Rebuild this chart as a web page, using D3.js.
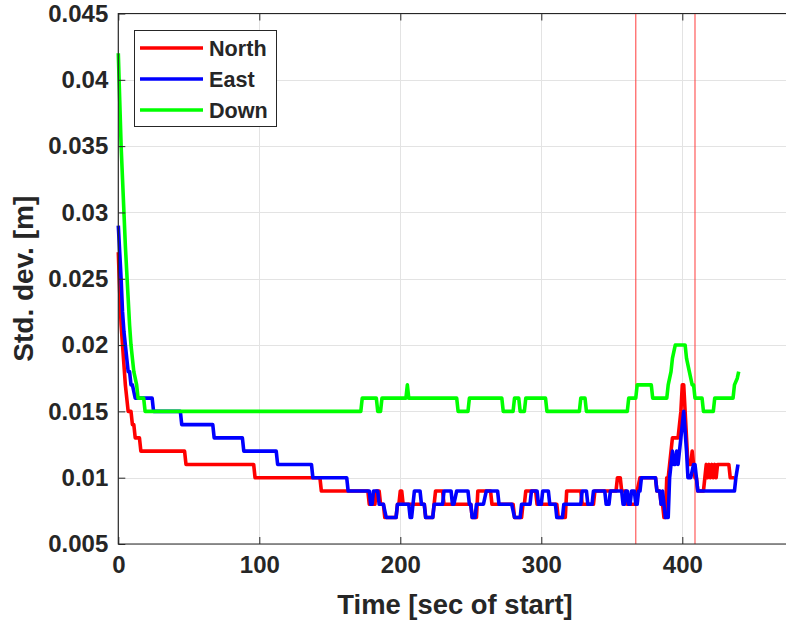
<!DOCTYPE html>
<html><head><meta charset="utf-8">
<script src="https://cdn.jsdelivr.net/npm/d3@7"></script>
<style>
body{margin:0;background:#fff}
svg{display:block;background:#fff}
text{font-family:"Liberation Sans",Arial,Helvetica,sans-serif;font-weight:bold;fill:#262626}
</style>
</head><body>
<svg id="chart" width="786" height="623"></svg>
<script>
// ---------- data ----------
const xTicks = [0, 100, 200, 300, 400];
const xTickLabels = ["0", "100", "200", "300", "400"];
const yTicks = [0.005, 0.01, 0.015, 0.02, 0.025, 0.03, 0.035, 0.04, 0.045];
const yTickLabels = ["0.005", "0.01", "0.015", "0.02", "0.025", "0.03", "0.035", "0.04", "0.045"];
const seriesNames = ["North", "East", "Down"];
const seriesColors = ["#ff0000", "#0000ff", "#00ff00"];
const markerTimes = [367, 409];
const xLabel = "Time [sec of start]";
const yLabel = "Std. dev. [m]";

// plateaus: [t start, t end, value]
const north = [
  [0,0,0.027],[1,1,0.024],[2,2,0.0215],[3,3,0.020],[4,4,0.0185],[5,5,0.017],[6,6,0.016],
  [7,9,0.015],[10,11,0.014],[12,15,0.013],[16,47,0.012],[48,96,0.011],[97,143,0.010],
  [144,177,0.009],[178,182,0.008],[183,185,0.009],[186,188,0.008],[189,197,0.007],
  [198,199,0.008],[200,201,0.009],[202,217,0.008],[218,223,0.007],[224,224,0.008],
  [225,230,0.009],[231,250,0.008],[251,254,0.007],[255,264,0.009],[265,280,0.008],
  [281,286,0.007],[287,288,0.008],[289,296,0.009],[297,311,0.008],[312,317,0.007],
  [318,328,0.009],[329,337,0.008],[338,353,0.009],[354,356,0.010],[357,360,0.009],
  [361,367,0.008],[368,368,0.009],[370,381,0.010],[382,384,0.009],[385,386,0.008],
  [387,388,0.007],[389,390,0.010],[391,391,0.011],[393,397,0.013],[399,399,0.015],
  [400,401,0.017],[403,403,0.013],[404,406,0.011],[407,407,0.012],[408,408,0.011],
  [409,410,0.010],[411,415,0.009],[416,416,0.010],[417,417,0.011],[418,418,0.010],
  [419,419,0.011],[420,420,0.010],[421,421,0.011],[422,422,0.010],[423,423,0.011],
  [424,424,0.010],[425,433,0.011],[434,437,0.010]
];
const east = [
  [0,0,0.029],[1,1,0.027],[2,2,0.025],[3,3,0.0225],[4,4,0.021],[5,5,0.020],[6,6,0.019],
  [7,8,0.018],[9,10,0.017],[12,24,0.016],[25,44,0.015],[45,67,0.014],[68,88,0.013],
  [89,112,0.012],[113,137,0.011],[138,162,0.010],[163,178,0.009],[179,180,0.008],
  [181,184,0.009],[185,188,0.008],[190,197,0.007],[198,206,0.008],[207,208,0.007],
  [210,214,0.009],[215,217,0.008],[218,223,0.007],[224,230,0.008],[231,236,0.009],
  [237,238,0.008],[240,248,0.009],[249,250,0.008],[251,253,0.007],[254,259,0.008],
  [261,269,0.009],[270,279,0.008],[281,285,0.007],[286,292,0.008],[293,297,0.009],
  [298,300,0.008],[301,305,0.009],[306,310,0.008],[311,315,0.007],[316,328,0.008],
  [329,332,0.009],[333,336,0.008],[337,345,0.009],[346,348,0.008],[349,357,0.009],
  [358,359,0.008],[360,361,0.009],[362,363,0.008],[364,366,0.009],[367,368,0.008],
  [369,370,0.009],[371,381,0.010],[382,384,0.009],[385,385,0.008],[386,386,0.009],
  [388,390,0.007],[391,391,0.010],[393,393,0.012],[394,395,0.011],[396,396,0.012],
  [397,397,0.011],[399,399,0.013],[401,401,0.015],[403,403,0.012],[404,406,0.010],
  [408,409,0.011],[411,437,0.009],[438,438,0.010],[439.5,439.5,0.011]
];
const down = [
  [0,0,0.042],[1,1,0.0385],[2,2,0.035],[3,3,0.0325],[4,4,0.030],[5,5,0.0275],[6,6,0.0255],
  [7,7,0.0235],[8,8,0.0215],[9,9,0.020],[10,10,0.019],[11,11,0.018],[12,12,0.0175],
  [13,13,0.017],[14,18,0.016],[19,172,0.015],[173,183,0.016],[184,186,0.015],
  [187,204,0.016],[205,205,0.017],[206,240,0.016],[241,248,0.015],[249,272,0.016],
  [273,280,0.015],[281,284,0.016],[285,288,0.015],[289,303,0.016],[304,327,0.015],
  [328,331,0.016],[332,361,0.015],[362,367,0.016],[368,378,0.017],[379,389,0.016],
  [390,390,0.017],[392,392,0.018],[393,393,0.019],[395,402,0.020],[403,403,0.019],
  [405,405,0.018],[407,408,0.017],[409,414,0.016],[415,422,0.015],[423,436,0.016],
  [437,437,0.017],[439,439,0.0175],[440,440,0.018]
];
const seriesData = [north, east, down];

// ---------- layout ----------
const svg = d3.select("#chart");
const pL = 118.3, pT = 13.5, pB = 544;
const x = d3.scaleLinear().domain([0, 480]).range([pL, pL + 480 * 1.41]);
const y = d3.scaleLinear().domain([0.005, 0.045]).range([pB, pT]);
const pR = x(480);

// grid
const grid = svg.append("g").attr("stroke", "#e3e3e3").attr("stroke-width", 1);
grid.selectAll(".gx").data(xTicks.filter(d => d > 0)).enter().append("line")
  .attr("x1", d => Math.round(x(d)) + 0.5).attr("x2", d => Math.round(x(d)) + 0.5)
  .attr("y1", pT).attr("y2", pB);
grid.selectAll(".gy").data(yTicks).enter().append("line")
  .attr("x1", pL).attr("x2", pR)
  .attr("y1", d => Math.round(y(d)) + 0.5).attr("y2", d => Math.round(y(d)) + 0.5);

// marker lines
svg.append("g").selectAll("line").data(markerTimes).enter().append("line")
  .attr("x1", d => x(d)).attr("x2", d => x(d)).attr("y1", pT).attr("y2", pB)
  .attr("stroke", "#ff4040").attr("stroke-width", 1.2).attr("opacity", 0.85);

// series
const expand = arr => arr.flatMap(d => d[0] === d[1] ? [[d[0], d[2]]] : [[d[0], d[2]], [d[1], d[2]]]);
const line = d3.line().x(d => x(d[0])).y(d => y(d[1]));
svg.append("g").selectAll("path").data(seriesData).enter().append("path")
  .attr("d", d => line(expand(d)))
  .attr("fill", "none")
  .attr("stroke", (d, i) => seriesColors[i])
  .attr("stroke-width", 3.6)
  .attr("stroke-linejoin", "round");

// axes
const xAxis = svg.append("g").attr("transform", `translate(0,${pB})`)
  .call(d3.axisBottom(x).tickValues(xTicks).tickFormat((d, i) => xTickLabels[i])
    .tickSizeInner(-7).tickSizeOuter(0).tickPadding(12));
const xAxisTop = svg.append("g").attr("transform", `translate(0,${pT})`)
  .call(d3.axisTop(x).tickValues(xTicks).tickFormat("").tickSizeInner(-7).tickSizeOuter(0));
const yAxis = svg.append("g").attr("transform", `translate(${pL},0)`)
  .call(d3.axisLeft(y).tickValues(yTicks).tickFormat((d, i) => yTickLabels[i])
    .tickSizeInner(-7).tickSizeOuter(0).tickPadding(10));
[xAxis, xAxisTop, yAxis].forEach(g => {
  g.select(".domain").remove();
  g.selectAll("line").attr("stroke", "#262626");
  g.selectAll("text").attr("font-size", 24).attr("fill", "#262626")
    .attr("font-family", '"Liberation Sans",Arial,sans-serif').attr("font-weight", "bold");
});

// box
svg.append("path")
  .attr("d", `M${pR},${pT}H${pL}V${pB}H${pR}`)
  .attr("fill", "none").attr("stroke", "#262626").attr("stroke-width", 1.2);

// labels
svg.append("text").attr("x", 455).attr("y", 614)
  .attr("text-anchor", "middle").attr("font-size", 27.4).text(xLabel);
svg.append("text").attr("transform", `translate(33,${(pT + pB) / 2}) rotate(-90)`)
  .attr("text-anchor", "middle").attr("font-size", 28).text(yLabel);

// legend
const lg = svg.append("g");
lg.append("rect").attr("x", 134.5).attr("y", 30.5).attr("width", 142).attr("height", 96)
  .attr("fill", "#fff").attr("stroke", "#262626").attr("stroke-width", 1);
const rows = lg.selectAll(".row").data(seriesNames).enter().append("g")
  .attr("transform", (d, i) => `translate(0,${48 + i * 31})`);
rows.append("line").attr("x1", 140).attr("x2", 203).attr("y1", 0).attr("y2", 0)
  .attr("stroke", (d, i) => seriesColors[i]).attr("stroke-width", 3.6);
rows.append("text").attr("x", 209).attr("y", 7.5).attr("font-size", 21.6).text(d => d);
</script>
</body></html>
